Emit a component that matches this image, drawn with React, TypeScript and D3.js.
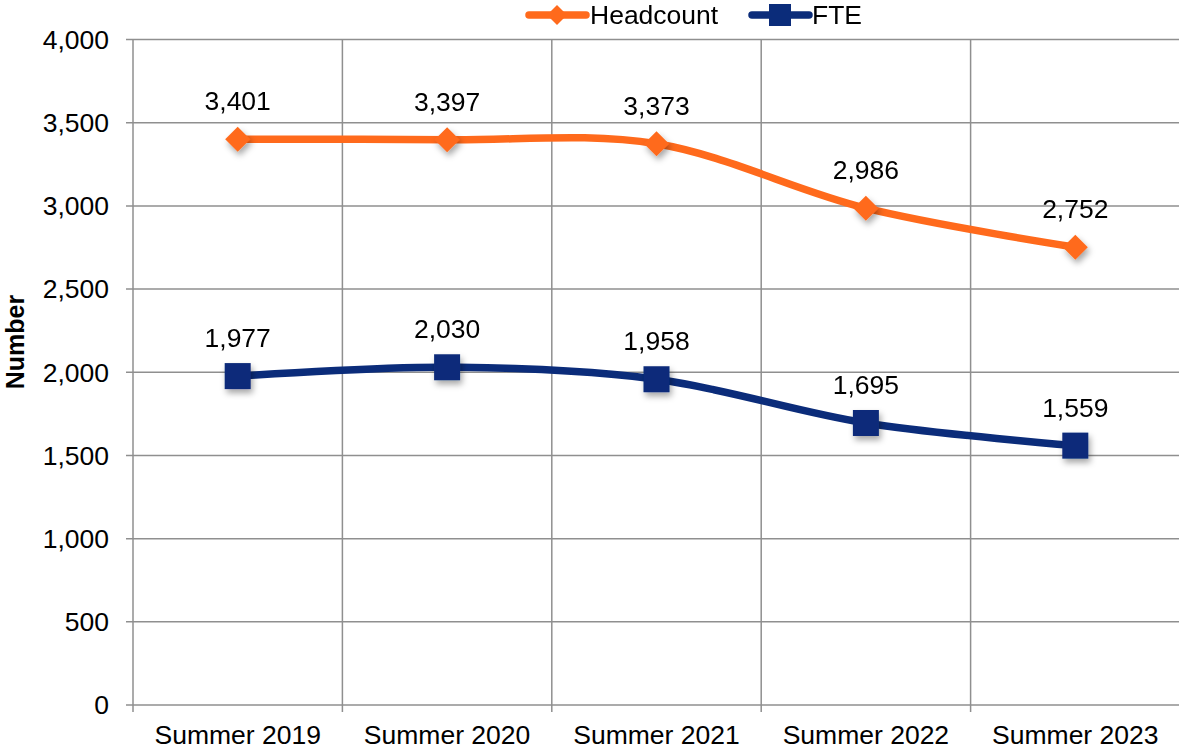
import React, { useEffect, useRef } from 'react';
import * as d3 from 'd3';

const categories = ['Summer 2019', 'Summer 2020', 'Summer 2021', 'Summer 2022', 'Summer 2023'];
const headcount = [3401, 3397, 3373, 2986, 2752];
const fte = [1977, 2030, 1958, 1695, 1559];
const yTicks = [0, 500, 1000, 1500, 2000, 2500, 3000, 3500, 4000];

const ORANGE = '#FF6A1C';
const NAVY = '#0B2C7A';
const GRID = '#8f8f8f';
const FONT = '"Liberation Sans", Arial, sans-serif';
const FS = 26.5;

export default function App() {
    const svgRef = useRef<SVGSVGElement>(null);

    useEffect(() => {
        const width = 1179, height = 751;
        const left = 133, right = 1180, top = 39.5, bottom = 705;

        const svg = d3.select(svgRef.current);
        svg.selectAll('*').remove();
        svg.attr('width', width).attr('height', height);

        const defs = svg.append('defs');
        const f = defs.append('filter').attr('id', 'shadow')
            .attr('x', '-50%').attr('y', '-50%').attr('width', '200%').attr('height', '200%');
        f.append('feDropShadow').attr('dx', 2).attr('dy', 4).attr('stdDeviation', 3)
            .attr('flood-color', '#000').attr('flood-opacity', 0.35);

        const x = d3.scaleBand().domain(categories).range([left, right]);
        const y = d3.scaleLinear().domain([0, 4000]).range([bottom, top]);
        const cx = (c: string) => (x(c) as number) + x.bandwidth() / 2;

        // grid
        const g = svg.append('g');
        g.selectAll('.hgrid').data(yTicks).enter().append('line')
            .attr('x1', left - 7).attr('x2', right)
            .attr('y1', d => y(d)).attr('y2', d => y(d))
            .attr('stroke', GRID).attr('stroke-width', 1.5);
        const vlines = categories.map(c => x(c) as number).concat([right]);
        g.selectAll('.vgrid').data(vlines).enter().append('line')
            .attr('x1', d => d).attr('x2', d => d)
            .attr('y1', top).attr('y2', bottom + 7)
            .attr('stroke', GRID).attr('stroke-width', 1.5);

        // y tick labels
        g.selectAll('.ylab').data(yTicks).enter().append('text')
            .attr('x', left - 24).attr('y', d => y(d))
            .attr('dy', '0.35em').attr('text-anchor', 'end')
            .attr('font-family', FONT).attr('font-size', FS).attr('fill', '#000')
            .text(d => d3.format(',')(d));

        // x labels
        g.selectAll('.xlab').data(categories).enter().append('text')
            .attr('x', d => cx(d)).attr('y', bottom + 39)
            .attr('text-anchor', 'middle')
            .attr('font-family', FONT).attr('font-size', FS).attr('fill', '#000')
            .text(d => d);

        // y title
        svg.append('text')
            .attr('transform', `translate(24,342) rotate(-90)`)
            .attr('text-anchor', 'middle')
            .attr('font-family', FONT).attr('font-size', 25).attr('font-weight', 'bold')
            .text('Number');

        const line = d3.line<number>()
            .x((d, i) => cx(categories[i]))
            .y(d => y(d))
            .curve(d3.curveCardinal.tension(0));

        const series = [
            { name: 'Headcount', values: headcount, color: ORANGE, marker: 'diamond' },
            { name: 'FTE', values: fte, color: NAVY, marker: 'square' },
        ];

        const diamond = (s: number) => `M0,${-s}L${s},0L0,${s}L${-s},0Z`;

        series.forEach(s => {
            svg.append('path').datum(s.values)
                .attr('d', line).attr('fill', 'none')
                .attr('stroke', s.color).attr('stroke-width', 7.5)
                .attr('stroke-linecap', 'round');
            const mk = svg.append('g').attr('filter', 'url(#shadow)');
            s.values.forEach((v, i) => {
                if (s.marker === 'diamond') {
                    mk.append('path').attr('d', diamond(12.5))
                        .attr('transform', `translate(${cx(categories[i])},${y(v)})`)
                        .attr('fill', s.color);
                } else {
                    mk.append('rect')
                        .attr('x', cx(categories[i]) - 13).attr('y', y(v) - 13)
                        .attr('width', 26).attr('height', 26)
                        .attr('fill', s.color);
                }
            });
            svg.selectAll(null).data(s.values).enter().append('text')
                .attr('x', (d, i) => cx(categories[i]))
                .attr('y', d => y(d) - 29)
                .attr('text-anchor', 'middle')
                .attr('font-family', FONT).attr('font-size', FS).attr('fill', '#000')
                .text(d => d3.format(',')(d));
        });

        // legend
        const leg = svg.append('g');
        const items = [
            { name: 'Headcount', color: ORANGE, marker: 'diamond', x0: 529, tx: 590 },
            { name: 'FTE', color: NAVY, marker: 'square', x0: 752, tx: 812 },
        ];
        items.forEach(it => {
            const ly = 15;
            leg.append('line').attr('x1', it.x0).attr('x2', it.x0 + 57)
                .attr('y1', ly).attr('y2', ly)
                .attr('stroke', it.color).attr('stroke-width', 7.5).attr('stroke-linecap', 'round');
            if (it.marker === 'diamond') {
                leg.append('path').attr('d', diamond(10))
                    .attr('transform', `translate(${it.x0 + 28},${ly})`).attr('fill', it.color);
            } else {
                leg.append('rect').attr('x', it.x0 + 17).attr('y', ly - 11)
                    .attr('width', 22).attr('height', 22).attr('fill', it.color);
            }
            leg.append('text').attr('x', it.tx).attr('y', ly).attr('dy', '0.35em')
                .attr('font-family', FONT).attr('font-size', FS).attr('fill', '#000')
                .text(it.name);
        });
    }, []);

    return (
        <svg ref={svgRef} style={{ position: 'absolute', left: 0, top: 0, display: 'block' }}></svg>
    );
}
